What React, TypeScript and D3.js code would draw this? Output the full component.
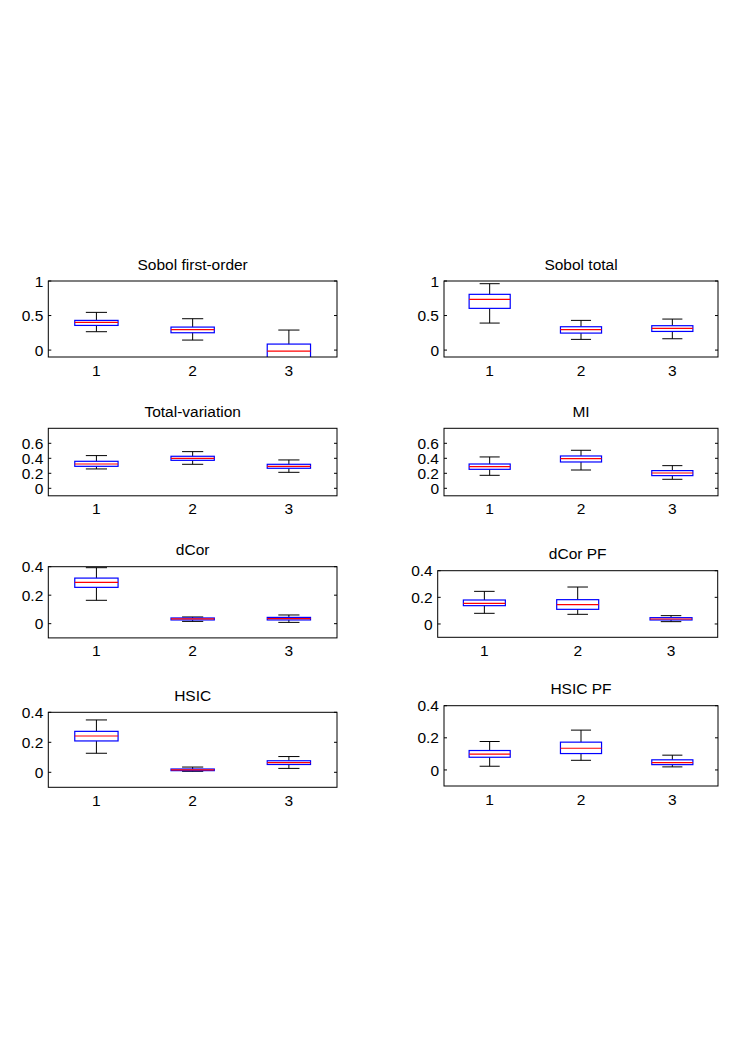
import React from "react";
import * as d3 from "d3";

// Category labels (x axis)
const groups = ["1", "2", "3"];

// Box stats per group: [lowerWhisker, Q1, median, Q3, upperWhisker]
const sobolFirst = [
  [0.266, 0.357, 0.4, 0.43, 0.546],
  [0.145, 0.251, 0.295, 0.333, 0.454],
  [-0.25, -0.13, -0.015, 0.087, 0.29],
];
const sobolTotal = [
  [0.391, 0.604, 0.734, 0.807, 0.961],
  [0.155, 0.246, 0.295, 0.338, 0.43],
  [0.164, 0.27, 0.314, 0.353, 0.449],
];
const totalVariation = [
  [0.258, 0.293, 0.324, 0.36, 0.436],
  [0.32, 0.373, 0.4, 0.427, 0.489],
  [0.213, 0.267, 0.293, 0.32, 0.378],
];
const mi = [
  [0.173, 0.253, 0.289, 0.324, 0.418],
  [0.244, 0.351, 0.396, 0.431, 0.507],
  [0.12, 0.169, 0.204, 0.236, 0.302],
];
const dCor = [
  [0.164, 0.255, 0.29, 0.32, 0.393],
  [0.016, 0.026, 0.033, 0.04, 0.047],
  [0.009, 0.026, 0.035, 0.044, 0.061],
];
const dCorPF = [
  [0.08, 0.1375, 0.155, 0.18, 0.245],
  [0.0725, 0.11, 0.145, 0.1825, 0.2775],
  [0.0175, 0.03, 0.0375, 0.0475, 0.0625],
];
const hsic = [
  [0.127, 0.209, 0.242, 0.273, 0.349],
  [0.0066, 0.011, 0.016, 0.022, 0.035],
  [0.026, 0.052, 0.064, 0.077, 0.105],
];
const hsicPF = [
  [0.023, 0.079, 0.098, 0.121, 0.177],
  [0.06, 0.102, 0.135, 0.173, 0.248],
  [0.019, 0.033, 0.046, 0.063, 0.092],
];

// Panel titles
const titles = [
  "Sobol first-order",
  "Sobol total",
  "Total-variation",
  "MI",
  "dCor",
  "dCor PF",
  "HSIC",
  "HSIC PF",
];

// Y domains and tick values per panel
const yDomains = [
  [-0.1, 1],
  [-0.1, 1],
  [-0.1, 0.8],
  [-0.1, 0.8],
  [-0.1, 0.4],
  [-0.1, 0.4],
  [-0.1, 0.4],
  [-0.1, 0.4],
];
const yTicks = [
  [0, 0.5, 1],
  [0, 0.5, 1],
  [0, 0.2, 0.4, 0.6],
  [0, 0.2, 0.4, 0.6],
  [0, 0.2, 0.4],
  [0, 0.2, 0.4],
  [0, 0.2, 0.4],
  [0, 0.2, 0.4],
];

const panelData = [sobolFirst, sobolTotal, totalVariation, mi, dCor, dCorPF, hsic, hsicPF];

// Layout (pixel frames of each axes box)
const frames = [
  { x0: 48.3, x1: 337, y0: 281, y1: 357 },
  { x0: 444, x1: 718, y0: 281, y1: 357 },
  { x0: 48.3, x1: 337, y0: 428.3, y1: 495.8 },
  { x0: 444, x1: 718, y0: 428.3, y1: 495.8 },
  { x0: 48.3, x1: 337, y0: 566.7, y1: 637.9 },
  { x0: 437.7, x1: 717.7, y0: 570.7, y1: 637.3 },
  { x0: 48.3, x1: 337, y0: 712.3, y1: 787.3 },
  { x0: 444, x1: 718, y0: 705.7, y1: 786 },
];

const FONT = "'Liberation Sans', Arial, Helvetica, sans-serif";
const FS = 15.5;

function Panel({ idx }: { idx: number }) {
  const f = frames[idx];
  const data = panelData[idx];
  const x = d3.scaleLinear().domain([0.5, 3.5]).range([f.x0, f.x1]);
  const y = d3.scaleLinear().domain(yDomains[idx]).range([f.y1, f.y0]);
  const fmt = (v: number) => (v === 0 ? "0" : String(+v.toFixed(2)));
  const clipId = `clip-${idx}`;
  const boxHalf = 0.225;
  const capHalf = 0.11;
  return (
    <g>
      <defs>
        <clipPath id={clipId}>
          <rect x={f.x0} y={f.y0} width={f.x1 - f.x0} height={f.y1 - f.y0} />
        </clipPath>
      </defs>
      <rect x={f.x0} y={f.y0} width={f.x1 - f.x0} height={f.y1 - f.y0} fill="#fff" />
      <g clipPath={`url(#${clipId})`}>
        {data.map((s, i) => {
          const c = i + 1;
          const [lo, q1, med, q3, hi] = s;
          return (
            <g key={i}>
              <line x1={x(c)} x2={x(c)} y1={y(hi)} y2={y(q3)} stroke="#000" strokeWidth={1} />
              <line x1={x(c)} x2={x(c)} y1={y(q1)} y2={y(lo)} stroke="#000" strokeWidth={1} />
              <line x1={x(c - capHalf)} x2={x(c + capHalf)} y1={y(hi)} y2={y(hi)} stroke="#000" strokeWidth={1} />
              <line x1={x(c - capHalf)} x2={x(c + capHalf)} y1={y(lo)} y2={y(lo)} stroke="#000" strokeWidth={1} />
              <rect
                x={x(c - boxHalf)}
                y={y(q3)}
                width={x(c + boxHalf) - x(c - boxHalf)}
                height={y(q1) - y(q3)}
                fill="none"
                stroke="#0000ff"
                strokeWidth={1.2}
              />
              <line x1={x(c - boxHalf)} x2={x(c + boxHalf)} y1={y(med)} y2={y(med)} stroke="#ff0000" strokeWidth={1.2} />
            </g>
          );
        })}
      </g>
      <rect x={f.x0} y={f.y0} width={f.x1 - f.x0} height={f.y1 - f.y0} fill="none" stroke="#000" strokeWidth={1} />
      {yTicks[idx].map((t) => (
        <g key={t}>
          <line x1={f.x0} x2={f.x0 + 3} y1={y(t)} y2={y(t)} stroke="#000" />
          <line x1={f.x1 - 3} x2={f.x1} y1={y(t)} y2={y(t)} stroke="#000" />
          <text x={f.x0 - 5} y={y(t)} dy="0.36em" textAnchor="end" fontFamily={FONT} fontSize={FS} fill="#000">
            {fmt(t)}
          </text>
        </g>
      ))}
      {groups.map((g, i) => (
        <text key={g} x={x(i + 1)} y={f.y1 + 18.5} textAnchor="middle" fontFamily={FONT} fontSize={FS} fill="#000">
          {g}
        </text>
      ))}
      <text x={(f.x0 + f.x1) / 2} y={f.y0 - 11.5} textAnchor="middle" fontFamily={FONT} fontSize={FS} fill="#000">
        {titles[idx]}
      </text>
    </g>
  );
}

export default function App() {
  return (
    <svg width={747} height={1058} style={{ position: "absolute", left: 0, top: 0, background: "#fff" }}>
      <rect x={0} y={0} width={747} height={1058} fill="#fff" />
      {titles.map((_, i) => (
        <Panel key={i} idx={i} />
      ))}
    </svg>
  );
}
